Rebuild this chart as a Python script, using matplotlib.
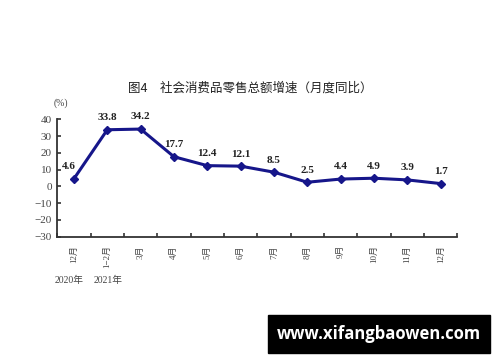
import matplotlib
matplotlib.use("Agg")
import matplotlib.pyplot as plt

categories = ["12月", "1−2月", "3月", "4月", "5月", "6月", "7月", "8月", "9月", "10月", "11月", "12月"]
values = [4.6, 33.8, 34.2, 17.7, 12.4, 12.1, 8.5, 2.5, 4.4, 4.9, 3.9, 1.7]
yticks = [-30, -20, -10, 0, 10, 20, 30, 40]
years = ["2020年", "2021年"]
title = "图4　社会消费品零售总额增速（月度同比）"

serif = ["Liberation Serif", "Noto Sans CJK SC"]
cjk = ["Noto Sans CJK SC", "DejaVu Sans"]

fig = plt.figure(figsize=(5, 3.62), dpi=100)
ax = fig.add_axes([0.1146, 0.346, 0.8, 0.3243])

x = list(range(len(values)))
color = "#16168a"
ax.plot(x, values, color=color, lw=2.2, marker="D", markersize=4.5, zorder=3)

for i, v in enumerate(values):
    dx = -3.5 if i == 0 else 0
    ax.annotate(f"{v}", (i, v), xytext=(dx, 5.5), textcoords="offset points",
                ha="center", va="bottom", fontsize=8, fontweight="bold",
                family=serif, color="#222222")

ax.set_xlim(-0.5, len(values) - 0.5)
ax.set_ylim(-30, 40)
ax.set_yticks(yticks)
ax.set_yticklabels([str(t).replace("-", "−") for t in yticks], family=serif, fontsize=8, color="#444444")

ax.set_xticks([i - 0.5 for i in range(len(values) + 1)])
ax.set_xticklabels([])
ax.set_xticks(x, minor=True)
ax.set_xticklabels(categories, minor=True, rotation=90, family=serif, fontsize=6.5, color="#444444")
ax.tick_params(axis="x", which="minor", length=0, pad=6)
ax.tick_params(axis="x", which="major", direction="in", length=3, width=1.2, color="#333333")
ax.tick_params(axis="y", direction="in", length=3, width=1.2, color="#333333", pad=4)

for s in ["top", "right"]:
    ax.spines[s].set_visible(False)
for s in ["left", "bottom"]:
    ax.spines[s].set_color("#333333")
    ax.spines[s].set_linewidth(1.3)

fig.text(0.5, 0.757, title, ha="center", va="center", fontsize=9, family=cjk, color="#222222")
fig.text(0.121, 0.715, "(%)", ha="center", va="center", fontsize=7, family=serif, color="#444444")
fig.text(0.109, 0.226, years[0], ha="left", va="center", fontsize=7, family=serif, color="#444444")
fig.text(0.188, 0.226, years[1], ha="left", va="center", fontsize=7, family=serif, color="#444444")

# watermark
fig.patches.append(plt.Rectangle((268 / 500, 1 - 353 / 362), 222 / 500, 38 / 362,
                                 transform=fig.transFigure, color="black", zorder=5))
fig.text(379 / 500, 1 - 334 / 362, "www.xifangbaowen.com", ha="center", va="center",
         fontsize=12, fontweight="bold", family=["Open Sans", "DejaVu Sans"], color="white", zorder=6)

fig.savefig("out.png", dpi=100)
